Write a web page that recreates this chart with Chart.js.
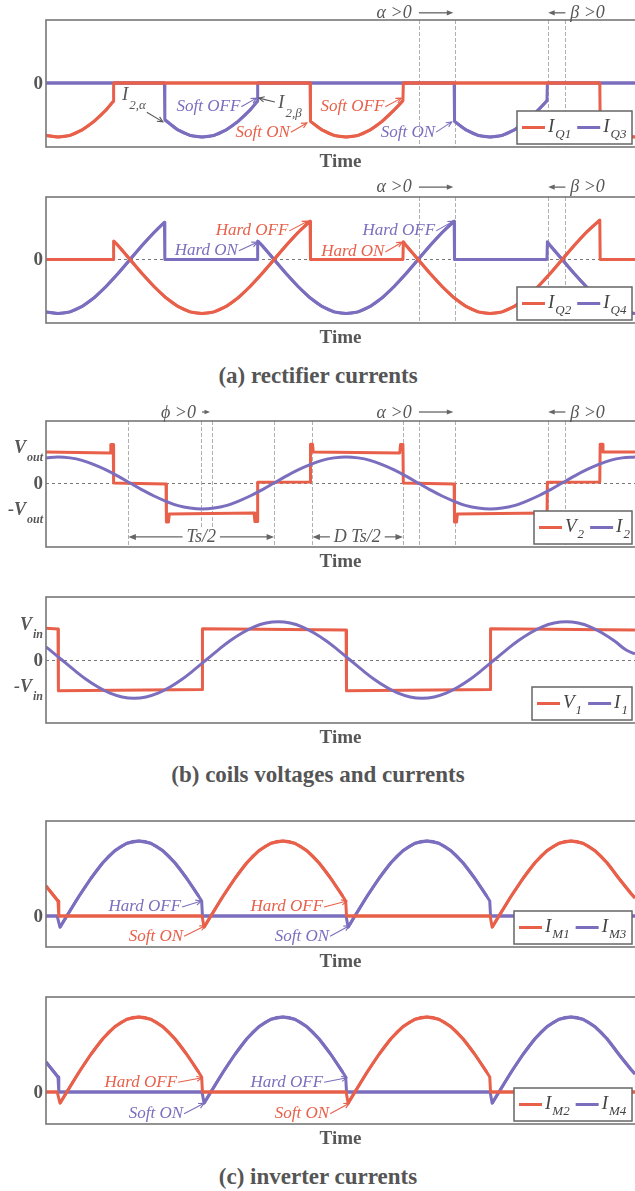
<!DOCTYPE html>
<html>
<head>
<meta charset="utf-8">
<script src="https://cdn.jsdelivr.net/npm/chart.js@4.4.0/dist/chart.umd.min.js"></script>
<style>
  html, body { margin: 0; padding: 0; background: #fff; overflow: hidden; }
  body { width: 635px; height: 1191px; position: relative; }
  canvas { position: absolute; left: 0; }
  .cap { position: absolute; left: 0; width: 636px; text-align: center; font: bold 23px "Liberation Serif", "Times New Roman", serif; color: #555; line-height: 26px; }
</style>
</head>
<body>
<canvas id="p1" width="635" height="175" style="top:0px"></canvas>
<canvas id="p2" width="635" height="175" style="top:175px"></canvas>
<div class="cap" style="top:363px">(a) rectifier currents</div>
<canvas id="p3" width="635" height="180" style="top:395px"></canvas>
<canvas id="p4" width="635" height="175" style="top:580px"></canvas>
<div class="cap" style="top:762px">(b) coils voltages and currents</div>
<canvas id="p5" width="635" height="175" style="top:800px"></canvas>
<canvas id="p6" width="635" height="175" style="top:975px"></canvas>
<div class="cap" style="top:1164px">(c) inverter currents</div>

<script>
const RED = '#e8604a', PURPLE = '#7b6ebe', GREY = '#575757';
const FONT = '"Liberation Serif", "Times New Roman", serif';

// time in electrical degrees, visible window
const T_MIN = 0, T_MAX = 736;

// rectifier switch currents, per unit of the I2 peak
const iQ1 = [[0,-0.97],[15,-1],[30,-0.97],[45,-0.87],[60,-0.71],[75,-0.5],[84,-0.34],[84.5,0],[330,0],[330.5,-0.71],[345,-0.87],[360,-0.97],[375,-1],[390,-0.97],[405,-0.87],[420,-0.71],[435,-0.5],[446,-0.33],[446.5,0],[692,0],[692.5,-0.73],[705,-0.87],[720,-0.97],[736,-1]];
const iQ3 = [[0,0],[148,0],[148.5,-0.68],[165,-0.87],[180,-0.97],[195,-1],[210,-0.97],[225,-0.87],[240,-0.71],[255,-0.5],[264,-0.34],[264.5,0],[510,0],[510.5,-0.71],[525,-0.87],[540,-0.97],[555,-1],[570,-0.97],[585,-0.87],[600,-0.71],[615,-0.5],[626,-0.33],[626.5,0],[736,0]];
const iQ2 = [[0,0],[84,0],[84.5,0.34],[90,0.26],[105,0],[120,-0.26],[135,-0.5],[150,-0.71],[165,-0.87],[180,-0.97],[195,-1],[210,-0.97],[225,-0.87],[240,-0.71],[255,-0.5],[270,-0.26],[285,0],[300,0.26],[315,0.5],[330,0.71],[330.5,0],[446,0],[446.5,0.33],[450,0.26],[465,0],[480,-0.26],[495,-0.5],[510,-0.71],[525,-0.87],[540,-0.97],[555,-1],[570,-0.97],[585,-0.87],[600,-0.71],[615,-0.5],[630,-0.26],[645,0],[660,0.26],[675,0.5],[692,0.73],[692.5,0],[736,0]];
const iQ4 = [[0,-0.97],[15,-1],[30,-0.97],[45,-0.87],[60,-0.71],[75,-0.5],[90,-0.26],[105,0],[120,0.26],[135,0.5],[148,0.69],[148.5,0],[264,0],[264.5,0.34],[270,0.26],[285,0],[300,-0.26],[315,-0.5],[330,-0.71],[345,-0.87],[360,-0.97],[375,-1],[390,-0.97],[405,-0.87],[420,-0.71],[435,-0.5],[450,-0.26],[465,0],[480,0.26],[495,0.5],[510,0.71],[510.5,0],[626,0],[626.5,0.33],[630,0.26],[645,0],[660,-0.26],[675,-0.5],[690,-0.71],[705,-0.87],[720,-0.97],[736,-1]];

// secondary coil: V2 in units of Vout, I2 on the same scale
const v2 = [[0,1],[80,0.97],[81,1.24],[84,1.24],[84.5,0],[150,-0.03],[150.5,-1.26],[153,-1.26],[154,-1],[260,-0.97],[261,-1.24],[264,-1.24],[264.5,0.02],[330,0.03],[330.5,1.25],[333,1.25],[334,1],[442,0.97],[443,1.24],[446,1.24],[446.5,0],[510,-0.03],[510.5,-1.26],[513,-1.26],[514,-1],[622,-0.97],[623,-1.24],[626,-1.24],[626.5,0.02],[692,0.03],[692.5,1.25],[695,1.25],[696,1],[736,1]];
const i2 = [[0,0.81],[15,0.84],[30,0.81],[45,0.73],[60,0.59],[75,0.42],[90,0.22],[105,0],[120,-0.22],[135,-0.42],[150,-0.59],[165,-0.73],[180,-0.81],[195,-0.84],[210,-0.81],[225,-0.73],[240,-0.59],[255,-0.42],[270,-0.22],[285,0],[300,0.22],[315,0.42],[330,0.59],[345,0.73],[360,0.81],[375,0.84],[390,0.81],[405,0.73],[420,0.59],[435,0.42],[450,0.22],[465,0],[480,-0.22],[495,-0.42],[510,-0.59],[525,-0.73],[540,-0.81],[555,-0.84],[570,-0.81],[585,-0.73],[600,-0.59],[615,-0.42],[630,-0.22],[645,0],[660,0.22],[675,0.42],[690,0.59],[705,0.73],[720,0.81],[736,0.84]];

// primary coil: V1 in units of Vin, I1 on the same scale
const v1 = [[0,1.02],[15,1],[15.5,-0.99],[195,-0.95],[195.5,1.01],[375,0.97],[375.5,-0.99],[555,-0.95],[555.5,1.01],[736,0.97]];
const i1 = [[0,0.42],[5,0.32],[20,0],[35,-0.32],[50,-0.62],[65,-0.87],[80,-1.07],[95,-1.19],[110,-1.23],[125,-1.19],[140,-1.07],[155,-0.87],[170,-0.62],[185,-0.32],[200,0],[215,0.32],[230,0.62],[245,0.87],[260,1.07],[275,1.19],[290,1.23],[305,1.19],[320,1.07],[335,0.87],[350,0.62],[365,0.32],[380,0],[395,-0.32],[410,-0.62],[425,-0.87],[440,-1.07],[455,-1.19],[470,-1.23],[485,-1.19],[500,-1.07],[515,-0.87],[530,-0.62],[545,-0.32],[560,0],[575,0.32],[590,0.62],[605,0.87],[620,1.07],[635,1.19],[650,1.23],[665,1.19],[680,1.07],[695,0.87],[710,0.62],[725,0.32],[736,0.2]];

// inverter switch currents, per unit of the half-wave peak
const iM1 = [[0,0.4],[15,0.2],[16,0],[195,0],[197.5,-0.15],[206,0],[221,0.26],[236,0.5],[251,0.71],[266,0.87],[281,0.97],[296,1],[311,0.97],[326,0.87],[341,0.71],[356,0.5],[371,0.26],[374.5,0.2],[375.5,0],[555,0],[557.5,-0.15],[566,0],[581,0.26],[596,0.5],[611,0.71],[626,0.87],[641,0.97],[656,1],[671,0.97],[686,0.87],[701,0.71],[716,0.5],[731,0.3],[736,0.24]];
const iM3 = [[0,0],[14,0],[17.5,-0.15],[26,0],[41,0.26],[56,0.5],[71,0.71],[86,0.87],[101,0.97],[116,1],[131,0.97],[146,0.87],[161,0.71],[176,0.5],[191,0.26],[194.5,0.2],[195.5,0],[375,0],[377.5,-0.15],[386,0],[401,0.26],[416,0.5],[431,0.71],[446,0.87],[461,0.97],[476,1],[491,0.97],[506,0.87],[521,0.71],[536,0.5],[551,0.26],[554.5,0.2],[555.5,0],[736,0]];
// diagonal pairs switch together
const iM4 = iM1;
const iM2 = iM3;

// dashed timing guides
const alphaBeta = [466, 511, 627.5, 649];
const phaseGuides = [103, 194, 208, 285, 333];

const toXY = pts => pts.map(([t, v]) => ({ x: t, y: v }));

// split a switched waveform at its fast edges so the curved parts can be smoothed
function smoothParts(pts) {
  const out = [];
  pts.forEach((p, i) => {
    if (i > 0 && p[0] - pts[i - 1][0] < 4) out.push({ x: (p[0] + pts[i - 1][0]) / 2, y: null });
    out.push({ x: p[0], y: p[1] });
  });
  return out;
}

function subText(ctx, x, y, main, sub, size, align, color, style, dy) {
  style = style || 'italic';
  const f1 = style + ' ' + size + 'px ' + FONT;
  const f2 = style + ' ' + Math.round(size * 0.68) + 'px ' + FONT;
  ctx.font = f1;
  const w1 = ctx.measureText(main).width;
  let w2 = 0;
  if (sub) { ctx.font = f2; w2 = ctx.measureText(sub).width + 1; }
  const w = w1 + w2;
  const x0 = align === 'right' ? x - w : align === 'center' ? x - w / 2 : x;
  ctx.fillStyle = color;
  ctx.textAlign = 'left';
  ctx.textBaseline = 'middle';
  ctx.font = f1;
  ctx.fillText(main, x0, y);
  if (sub) {
    ctx.font = f2;
    ctx.fillText(sub, x0 + w1 + 1, y + (dy == null ? size * 0.55 : dy));
  }
  return w;
}

function arrow(ctx, x0, y0, x1, y1, color, filled, head) {
  const ang = Math.atan2(y1 - y0, x1 - x0), h = head || 6, spread = filled ? 0.38 : 0.45;
  const back = filled ? h * 0.7 : 0;
  ctx.save();
  ctx.strokeStyle = color;
  ctx.fillStyle = color;
  ctx.lineWidth = filled ? 1.3 : 1.1;
  ctx.setLineDash([]);
  ctx.beginPath();
  ctx.moveTo(x0, y0);
  ctx.lineTo(x1 - Math.cos(ang) * back, y1 - Math.sin(ang) * back);
  ctx.stroke();
  ctx.beginPath();
  ctx.moveTo(x1 - h * Math.cos(ang - spread), y1 - h * Math.sin(ang - spread));
  ctx.lineTo(x1, y1);
  ctx.lineTo(x1 - h * Math.cos(ang + spread), y1 - h * Math.sin(ang + spread));
  if (filled) { ctx.closePath(); ctx.fill(); } else ctx.stroke();
  ctx.restore();
}

// frame, guides, labels, callouts and legend box for one panel
function decorations(p) {
  return {
    id: 'deco',
    beforeDatasetsDraw(chart) {
      const { ctx, chartArea: a, scales: { x, y } } = chart;
      ctx.save();
      ctx.lineWidth = 1;
      if (p.zero) {
        const yy = Math.round(y.getPixelForValue(0)) + 0.5;
        ctx.strokeStyle = '#777';
        ctx.setLineDash([3, 3]);
        ctx.beginPath(); ctx.moveTo(a.left, yy); ctx.lineTo(a.right, yy); ctx.stroke();
      }
      ctx.strokeStyle = '#b0b0b0';
      ctx.setLineDash([4, 2]);
      (p.guides || []).forEach(t => {
        const xx = Math.round(x.getPixelForValue(t)) + 0.5;
        ctx.beginPath(); ctx.moveTo(xx, a.top); ctx.lineTo(xx, a.bottom); ctx.stroke();
      });
      ctx.restore();
    },
    afterDatasetsDraw(chart) {
      const { ctx, chartArea: a, scales: { x, y } } = chart;
      const X = v => x.getPixelForValue(v), Y = v => y.getPixelForValue(v);
      ctx.save();

      // frame (right edge runs off the page)
      ctx.strokeStyle = '#777';
      ctx.lineWidth = 1.6;
      ctx.strokeRect(a.left, a.top, a.right - a.left + 10, a.bottom - a.top);

      // y tick labels
      (p.ticks || []).forEach(([v, m, s]) => {
        const yy = Y(v);
        if (s) {
          subText(ctx, a.left - 3, yy - 4, m, s, 18, 'right', GREY, 'bold italic', 10);
        } else {
          ctx.font = 'bold 19px ' + FONT;
          ctx.fillStyle = GREY;
          ctx.textAlign = 'right';
          ctx.textBaseline = 'middle';
          ctx.fillText(m, a.left - 3, yy + 1);
        }
      });

      // x axis title
      ctx.font = 'bold 19px ' + FONT;
      ctx.fillStyle = GREY;
      ctx.textAlign = 'center';
      ctx.textBaseline = 'middle';
      ctx.fillText('Time', (a.left + a.right) / 2, a.bottom + 15);

      // angle markers above the frame
      (p.marks || []).forEach(m => {
        subText(ctx, X(m.x), Y(m.y), m.t, null, 18, m.align, GREY, 'italic');
      });
      (p.pointers || []).forEach(m => {
        arrow(ctx, X(m.from[0]), Y(m.from[1]), X(m.to[0]), Y(m.to[1]), '#666', true, m.head || 7);
      });

      // period spans
      (p.spans || []).forEach(s => {
        const xc = X(s.at), yy = Y(s.y);
        arrow(ctx, xc, yy, X(s.from), yy, '#666', true, 8);
        arrow(ctx, xc, yy, X(s.to), yy, '#666', true, 8);
        ctx.font = 'italic 18px ' + FONT;
        const w = ctx.measureText(s.t).width;
        ctx.fillStyle = '#fff';
        ctx.fillRect(xc - w / 2 - 4, yy - 9, w + 8, 18);
        ctx.fillStyle = GREY;
        ctx.textAlign = 'center';
        ctx.textBaseline = 'middle';
        ctx.fillText(s.t, xc, yy);
      });

      // switching callouts
      (p.notes || []).forEach(n => {
        const px = X(n.x), py = Y(n.y), align = n.align || 'right';
        subText(ctx, align === 'right' ? px - 1 : px, py, n.t, n.s, n.size || 17, align, n.c, 'italic');
        const f = n.from ? [X(n.from[0]), Y(n.from[1])] : [px, py];
        arrow(ctx, f[0], f[1], X(n.to[0]), Y(n.to[1]), n.c, false, 6);
      });

      // legend box in the lower right corner
      if (p.legend) {
        const L = p.legend, h = 33;
        const r = a.right - 3, b = a.bottom - 3, l = r - L.w, t = b - h, cy = t + h / 2;
        ctx.fillStyle = '#fff';
        ctx.fillRect(l, t, L.w, h);
        ctx.strokeStyle = '#666';
        ctx.lineWidth = 1.5;
        ctx.strokeRect(l, t, L.w, h);
        let cx = l + 5;
        L.items.forEach(([m, s, c]) => {
          ctx.strokeStyle = c;
          ctx.lineWidth = 3;
          ctx.beginPath(); ctx.moveTo(cx, cy); ctx.lineTo(cx + 23, cy); ctx.stroke();
          cx += 26;
          cx += subText(ctx, cx, cy - 1, m, s, 19, 'left', '#444', 'italic', 8) + 6;
        });
      }
      ctx.restore();
    }
  };
}

function build(p) {
  const sets = [];
  p.series.forEach(s => {
    const line = { borderColor: s.color, borderWidth: 3, pointRadius: 0, fill: false, borderJoinStyle: 'round' };
    if (s.mono) {
      // smooth conduction intervals on top, straight edges and zero stretches underneath
      sets.push(Object.assign({ label: s.name, data: smoothParts(s.data), cubicInterpolationMode: 'monotone', spanGaps: false }, line));
      sets.push(Object.assign({ label: s.name + ' edges', data: toXY(s.data), tension: 0 }, line));
    } else {
      sets.push(Object.assign({ label: s.name, data: toXY(s.data), tension: s.smooth ? 0.4 : 0 }, line));
    }
  });
  return new Chart(document.getElementById(p.id), {
    type: 'line',
    data: { datasets: sets },
    options: {
      responsive: false,
      animation: false,
      events: [],
      layout: { padding: { left: 46, right: 0, top: p.pad[0], bottom: p.pad[1] } },
      scales: {
        x: { type: 'linear', min: T_MIN, max: T_MAX, display: false },
        y: { min: p.y[0], max: p.y[1], display: false }
      },
      plugins: { legend: { display: false }, tooltip: { enabled: false } }
    },
    plugins: [decorations(p)]
  });
}

const zeroTick = [[0, '0']];
const abMarks = yv => [{ t: 'α >0', x: 435, y: yv, align: 'center' }, { t: 'β >0', x: 655, y: yv, align: 'left' }];
const abPointers = yv => [{ from: [466, yv], to: [509, yv] }, { from: [649, yv], to: [627.5, yv] }];

const panels = [
  {
    id: 'p1', pad: [20, 28], y: [-1.185, 1.167],
    series: [
      { name: 'IQ1', data: iQ1, color: RED, mono: true },
      { name: 'IQ3', data: iQ3, color: PURPLE, mono: true }
    ],
    ticks: zeroTick, guides: alphaBeta,
    marks: abMarks(1.3), pointers: abPointers(1.3),
    notes: [
      { t: 'I', s: '2,α', c: GREY, x: 95, y: -0.22, align: 'left', size: 19, from: [126, -0.54], to: [146, -0.72] },
      { t: 'Soft OFF', c: PURPLE, x: 244, y: -0.44, to: [263, -0.28] },
      { t: 'I', s: '2,β', c: GREY, x: 290, y: -0.37, align: 'left', size: 19, from: [286, -0.35], to: [266, -0.28] },
      { t: 'Soft ON', c: RED, x: 306, y: -0.91, to: [326, -0.74] },
      { t: 'Soft OFF', c: RED, x: 424, y: -0.44, to: [444, -0.28] },
      { t: 'Soft ON', c: PURPLE, x: 487.5, y: -0.91, to: [507, -0.72] }
    ],
    legend: { w: 115, items: [['I', 'Q1', RED], ['I', 'Q3', PURPLE]] }
  },
  {
    id: 'p2', pad: [22, 27], y: [-1.176, 1.157], zero: true,
    series: [
      { name: 'IQ2', data: iQ2, color: RED, mono: true },
      { name: 'IQ4', data: iQ4, color: PURPLE, mono: true }
    ],
    ticks: zeroTick, guides: alphaBeta,
    marks: abMarks(1.34), pointers: abPointers(1.34),
    notes: [
      { t: 'Hard ON', c: PURPLE, x: 241, y: 0.16, to: [264, 0.32] },
      { t: 'Hard OFF', c: RED, x: 304, y: 0.53, to: [327, 0.71] },
      { t: 'Hard ON', c: RED, x: 424, y: 0.14, to: [445, 0.32] },
      { t: 'Hard OFF', c: PURPLE, x: 487.5, y: 0.53, to: [509, 0.71] }
    ],
    legend: { w: 115, items: [['I', 'Q2', RED], ['I', 'Q4', PURPLE]] }
  },
  {
    id: 'p3', pad: [26, 28], y: [-2.065, 2.0], zero: true,
    series: [
      { name: 'I2', data: i2, color: PURPLE, smooth: true },
      { name: 'V2', data: v2, color: RED }
    ],
    ticks: [[1, 'V', 'out'], [0, '0'], [-1, '-V', 'out']],
    guides: phaseGuides.concat([446], alphaBeta),
    marks: [{ t: 'ϕ >0', x: 165.6, y: 2.26, align: 'center' }].concat(abMarks(2.26)),
    pointers: [{ from: [195, 2.29], to: [205, 2.29], head: 6 }].concat(abPointers(2.29)),
    spans: [
      { from: 103, to: 285, y: -1.74, t: 'Ts/2', at: 194 },
      { from: 333, to: 446, y: -1.74, t: 'D Ts/2', at: 389 }
    ],
    legend: { w: 98, items: [['V', '2', RED], ['I', '2', PURPLE]] }
  },
  {
    id: 'p4', pad: [17, 32], y: [-2.03, 2.03], zero: true,
    series: [
      { name: 'I1', data: i1, color: PURPLE, smooth: true },
      { name: 'V1', data: v1, color: RED }
    ],
    ticks: [[1, 'V', 'in'], [0, '0'], [-1, '-V', 'in']],
    legend: { w: 100, items: [['V', '1', RED], ['I', '1', PURPLE]] }
  },
  {
    id: 'p5', pad: [21, 28], y: [-0.413, 1.267],
    series: [
      { name: 'IM1', data: iM1, color: RED, mono: true },
      { name: 'IM3', data: iM3, color: PURPLE, mono: true }
    ],
    ticks: zeroTick,
    notes: [
      { t: 'Hard OFF', c: PURPLE, x: 170, y: 0.12, to: [194, 0.2] },
      { t: 'Soft ON', c: RED, x: 172.5, y: -0.27, to: [199, -0.13] },
      { t: 'Hard OFF', c: RED, x: 347.5, y: 0.12, to: [376, 0.2] },
      { t: 'Soft ON', c: PURPLE, x: 355, y: -0.27, to: [379, -0.13] }
    ],
    legend: { w: 118, items: [['I', 'M1', RED], ['I', 'M3', PURPLE]] }
  },
  {
    id: 'p6', pad: [22, 26], y: [-0.427, 1.267],
    series: [
      { name: 'IM2', data: iM2, color: RED, mono: true },
      { name: 'IM4', data: iM4, color: PURPLE, mono: true }
    ],
    ticks: zeroTick,
    notes: [
      { t: 'Hard OFF', c: RED, x: 165, y: 0.13, to: [195, 0.19] },
      { t: 'Soft ON', c: PURPLE, x: 172.5, y: -0.29, to: [197.5, -0.15] },
      { t: 'Hard OFF', c: PURPLE, x: 347.5, y: 0.13, to: [376, 0.19] },
      { t: 'Soft ON', c: RED, x: 355, y: -0.29, to: [379, -0.15] }
    ],
    legend: { w: 118, items: [['I', 'M2', RED], ['I', 'M4', PURPLE]] }
  }
];

panels.forEach(build);
</script>
</body>
</html>
